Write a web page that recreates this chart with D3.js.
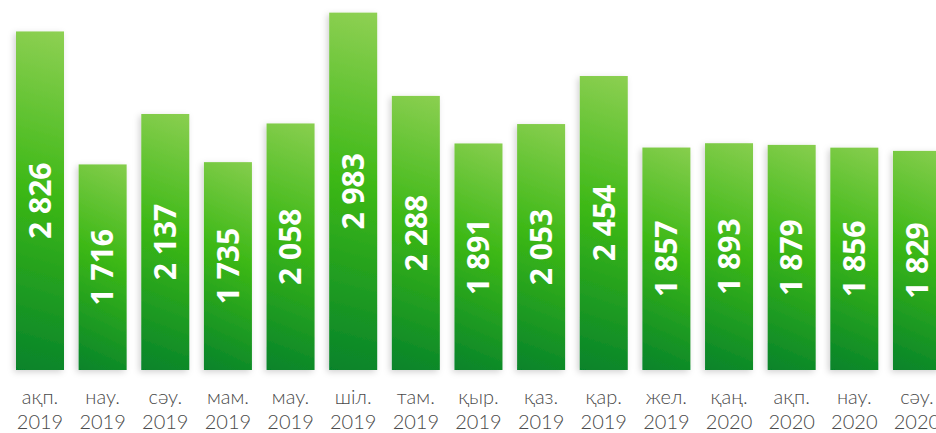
<!DOCTYPE html>
<html>
<head>
<meta charset="utf-8">
<script src="https://cdn.jsdelivr.net/npm/d3@7"></script>
<style>
  body { margin: 0; background: #fff; }
  .val { font-family: "Open Sans", sans-serif; font-weight: 700; fill: #fff; }
  .lbl { font-family: Lato, "Open Sans", sans-serif; font-weight: 300; fill: #4a4a4a; }
</style>
</head>
<body>
<svg class="chart"></svg>
<script>
const months = ["ақп.", "нау.", "сәу.", "мам.", "мау.", "шіл.", "там.", "қыр.", "қаз.", "қар.", "жел.", "қаң.", "ақп.", "нау.", "сәу."];
const years = ["2019", "2019", "2019", "2019", "2019", "2019", "2019", "2019", "2019", "2019", "2019", "2020", "2020", "2020", "2020"];
const values = [2826, 1716, 2137, 1735, 2058, 2983, 2288, 1891, 2053, 2454, 1857, 1893, 1879, 1856, 1829];

const data = values.map((v, i) => ({ key: i, month: months[i], year: years[i], value: v }));

let width = 936,
    height = 433,
    bottom = 370,
    barWidth = 48,
    step = 62.64;

let svg = d3.select(".chart")
    .attr("width", width)
    .attr("height", height);

let x = d3.scaleBand()
    .domain(data.map(d => d.key))
    .range([16 - (step - barWidth) / 2, 16 - (step - barWidth) / 2 + step * data.length])
    .paddingInner((step - barWidth) / step)
    .paddingOuter((step - barWidth) / step / 2);

let y = d3.scaleLinear()
    .domain([0, 3090])
    .range([bottom, bottom - 3090 * 0.1198]);

let defs = svg.append("defs");

// one gradient per bar, running from the bottom-left to the top-right corner
let grads = defs.selectAll("linearGradient")
    .data(data)
    .enter().append("linearGradient")
    .attr("id", d => "barGrad" + d.key)
    .attr("gradientUnits", "userSpaceOnUse")
    .attr("x1", d => x(d.key))
    .attr("y1", bottom)
    .attr("x2", d => x(d.key) + x.bandwidth() * 2)
    .attr("y2", d => y(d.value));
grads.append("stop").attr("offset", "0%").attr("stop-color", "#06832b");
grads.append("stop").attr("offset", "50%").attr("stop-color", "#3cb816");
grads.append("stop").attr("offset", "100%").attr("stop-color", "#95d258");

let shadow = defs.append("filter")
    .attr("id", "shadow")
    .attr("x", "-30%").attr("y", "-10%")
    .attr("width", "160%").attr("height", "120%");
shadow.append("feDropShadow")
    .attr("dx", -2).attr("dy", 2)
    .attr("stdDeviation", 3)
    .attr("flood-color", "#000")
    .attr("flood-opacity", 0.18);

let bar = svg.selectAll("g.bar")
    .data(data)
    .enter().append("g")
    .attr("class", "bar");

bar.append("rect")
    .attr("x", d => x(d.key))
    .attr("y", d => y(d.value))
    .attr("width", x.bandwidth())
    .attr("height", d => bottom - y(d.value))
    .attr("fill", d => "url(#barGrad" + d.key + ")")
    .attr("filter", "url(#shadow)");

bar.append("text")
    .attr("class", "val")
    .attr("transform", d => "translate(" + (x(d.key) + x.bandwidth() / 2) + "," + ((y(d.value) + bottom) / 2) + ") rotate(-90)")
    .attr("text-anchor", "middle")
    .attr("dy", ".36em")
    .style("font-size", "30px")
    .text(d => d3.format(",")(d.value).replace(",", " "));

bar.append("text")
    .attr("class", "lbl")
    .attr("x", d => x(d.key) + x.bandwidth() / 2)
    .attr("y", 404)
    .attr("text-anchor", "middle")
    .style("font-size", "20px")
    .text(d => d.month);

bar.append("text")
    .attr("class", "lbl")
    .attr("x", d => x(d.key) + x.bandwidth() / 2)
    .attr("y", 429)
    .attr("text-anchor", "middle")
    .style("font-size", "20px")
    .text(d => d.year);
</script>
</body>
</html>
